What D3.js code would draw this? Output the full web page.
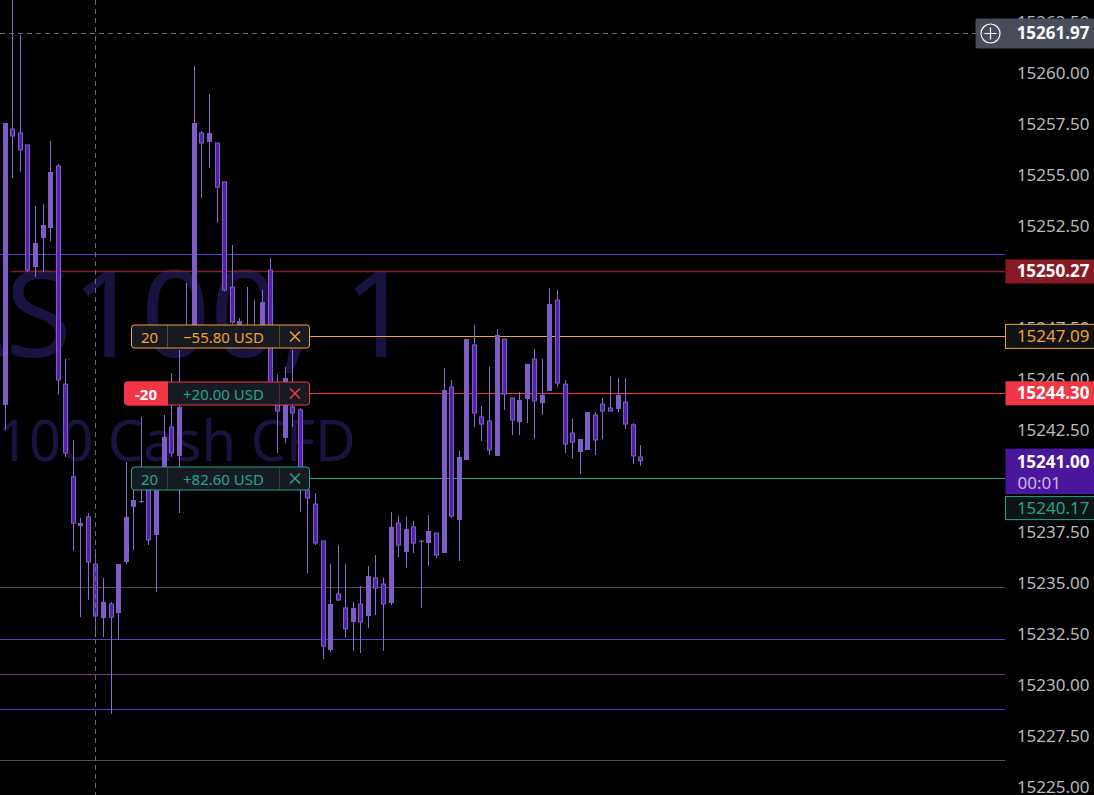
<!DOCTYPE html>
<html><head><meta charset="utf-8">
<script src="https://cdn.jsdelivr.net/npm/d3@7"></script>
<style>html,body{margin:0;padding:0;background:#000;overflow:hidden}</style>
</head><body>
<svg id="c" width="1094" height="795"></svg>
<script>
// ---------- data ----------
const opens = [15243.73,15257.25,15257.06,15256.47,15250.49,15251.91,15252.40,15255.44,15244.75,15240.20,
 15237.79,15238.24,15235.93,15233.28,15233.97,15233.53,15236.03,15238.73,15238.97,15239.56,
 15237.35,15240.69,15242.65,15241.23,15246.67,15246.91,15257.06,15256.62,15256.57,15254.66,
 15249.51,15247.65,15247.40,15246.81,15246.91,15250.34,15243.82,15242.11,15243.63,15243.48,
 15239.56,15238.87,15237.06,15231.72,15234.46,15233.78,15233.09,15233.97,15233.38,15235.25,
 15234.95,15234.02,15237.94,15236.52,15237.75,15237.06,15236.96,15237.45,15236.47,15244.61,
 15238.09,15241.03,15246.67,15243.14,15242.94,15241.23,15246.96,15244.07,15242.89,15244.02,
 15245.98,15243.82,15244.41,15248.87,15244.75,15242.35,15241.42,15241.52,15243.24,15243.77,
 15243.58,15243.53,15243.87,15242.75,15241.18];
const highs = [15257.55,15263.58,15261.86,15256.47,15253.48,15253.58,15256.67,15255.54,15245.98,15242.01,
 15238.19,15238.43,15236.47,15235.25,15234.07,15235.93,15240.93,15239.56,15243.14,15239.66,
 15239.56,15243.24,15245.29,15246.42,15249.71,15260.34,15257.16,15258.97,15256.57,15254.66,
 15251.57,15247.99,15249.51,15248.87,15249.36,15250.93,15245.20,15245.59,15246.42,15243.58,
 15239.71,15239.41,15237.06,15235.93,15236.86,15235.93,15234.07,15234.85,15235.83,15236.37,
 15235.25,15238.48,15238.28,15238.24,15238.04,15237.11,15238.33,15237.45,15245.54,15244.95,
 15241.47,15246.96,15247.65,15243.68,15245.59,15247.45,15246.96,15244.07,15244.36,15245.74,
 15246.47,15245.98,15249.46,15249.36,15244.95,15243.04,15242.06,15243.38,15243.38,15244.07,
 15245.15,15245.05,15245.05,15242.84,15241.76];
const lows = [15242.50,15254.85,15255.15,15250.25,15250.00,15250.25,15251.76,15244.22,15241.18,15236.57,
 15233.33,15234.17,15232.35,15232.35,15228.58,15232.21,15235.93,15236.62,15238.92,15236.86,
 15234.56,15240.54,15241.18,15238.43,15246.52,15246.67,15253.87,15255.34,15252.65,15249.30,
 15247.70,15247.16,15246.52,15246.52,15246.67,15243.87,15241.37,15241.86,15242.65,15238.48,
 15235.49,15236.86,15231.27,15231.62,15234.12,15232.30,15231.67,15231.57,15232.79,15233.43,
 15231.67,15233.92,15236.27,15235.74,15236.47,15233.78,15235.83,15236.23,15236.47,15238.19,
 15236.08,15241.03,15242.65,15241.96,15241.27,15241.23,15243.48,15242.25,15242.25,15242.84,
 15242.06,15243.24,15244.41,15244.61,15241.37,15241.08,15240.34,15241.52,15241.27,15242.06,
 15243.43,15243.38,15242.55,15240.83,15240.74];
const closes = [15257.55,15256.91,15256.23,15250.34,15251.67,15252.55,15255.15,15244.95,15241.37,15237.94,
 15237.94,15236.03,15233.38,15234.07,15233.33,15235.93,15238.24,15239.07,15239.02,15237.11,
 15239.56,15242.16,15241.37,15243.63,15247.40,15257.55,15256.57,15257.06,15254.41,15249.36,
 15247.79,15247.84,15246.91,15247.16,15248.77,15243.97,15243.43,15245.05,15243.33,15240.05,
 15239.17,15236.96,15231.91,15233.97,15234.17,15232.75,15233.78,15233.09,15235.34,15234.75,
 15233.97,15237.75,15236.86,15237.65,15236.96,15237.07,15237.55,15236.37,15244.46,15238.28,
 15241.18,15246.96,15243.33,15242.79,15241.52,15247.16,15244.26,15242.99,15243.97,15245.74,
 15243.92,15244.22,15248.68,15244.80,15241.81,15241.91,15242.06,15243.38,15242.01,15243.43,
 15243.43,15244.22,15242.79,15241.23,15241.00];

const tickValues = [15225.00,15227.50,15230.00,15232.50,15235.00,15237.50,15240.00,15242.50,
  15245.00,15247.50,15250.00,15252.50,15255.00,15257.50,15260.00,15262.50];

// drawn horizontal levels
const levelPrices = [15251.13, 15234.79, 15232.24, 15230.52, 15228.81, 15226.31];
const levelColors = ["#5442c8", "#4e4e4e", "#5442c8", "#7e36a6", "#5442c8", "#4e4e4e"];

// position line (ray from a bar index)
const rayPrice = 15250.27, rayStartIndex = 0.85;

// orders
const orderPrices = [15247.09, 15244.30, 15240.17];
const orderQty = ["20", "-20", "20"];
const orderPnl = ["\u221255.80 USD", "+20.00 USD", "+82.60 USD"];
const orderColors = ["#f0a232", "#f23645", "#22a58f"];
const orderPnlColors = ["#f0a232", "#22a58f", "#22a58f"];

const crossIndex = 12, crossPrice = 15261.97;
const lastPrice = 15241.00, countdown = "00:01";
const watermark1 = "NAS100, 1", watermark2 = "US Tech 100 Cash CFD";

// ---------- drawing ----------
const W = 1094, H = 795, paneRight = 1005;
const F = "'Noto Sans', 'Open Sans', sans-serif";
const svg = d3.select("#c");
svg.append("rect").attr("width", W).attr("height", H).attr("fill", "#000");

const x = d3.scaleLinear().domain([0, 84]).range([4.7, 640.3]);
const y = d3.scaleLinear().domain([15225, 15260]).range([787, 73]);
const py = p => Math.round(y(p)) + 0.5;

// watermark
svg.append("text").attr("x", -164).attr("y", 357).attr("font-family", F)
  .attr("font-size", 121).attr("fill", "#1a1240").text(watermark1);
svg.append("text").attr("x", -224).attr("y", 461).attr("font-family", F)
  .attr("font-size", 56).attr("fill", "#1a1240").text(watermark2);

// level lines
svg.append("g").selectAll("line").data(levelPrices).join("line")
  .attr("x1", 0).attr("x2", paneRight)
  .attr("y1", d => py(d)).attr("y2", d => py(d))
  .attr("stroke", (d, i) => levelColors[i]).attr("stroke-width", 1);

// red position ray
svg.append("line").attr("x1", x(rayStartIndex)).attr("x2", paneRight)
  .attr("y1", y(rayPrice)).attr("y2", y(rayPrice))
  .attr("stroke", "#851d25").attr("stroke-width", 1.6);

// order lines (to the right of labels)
const labelRight = 309.5;
svg.append("g").selectAll("line").data(orderPrices).join("line")
  .attr("x1", labelRight).attr("x2", paneRight)
  .attr("y1", d => py(d)).attr("y2", d => py(d))
  .attr("stroke", (d, i) => orderColors[i]).attr("stroke-width", 1);

// candles
const idx = d3.range(opens.length);
const upFill = "#7f5dc6", dnFill = "#5322a8", wickCol = "#8a6cd0", dnStroke = "#7f5ec8";
const cg = svg.append("g");
cg.selectAll("line").data(idx).join("line")
  .attr("x1", i => Math.round(x(i)) + 0.5).attr("x2", i => Math.round(x(i)) + 0.5)
  .attr("y1", i => y(highs[i])).attr("y2", i => y(lows[i]))
  .attr("stroke", wickCol).attr("stroke-width", 1);
cg.selectAll("rect").data(idx).join("rect")
  .attr("x", i => Math.round(x(i)) - 2 + (closes[i] >= opens[i] ? 0 : 0.5))
  .attr("width", i => closes[i] >= opens[i] ? 5 : 4)
  .attr("y", i => y(Math.max(opens[i], closes[i])))
  .attr("height", i => Math.max(1, Math.abs(y(opens[i]) - y(closes[i]))))
  .attr("fill", i => closes[i] >= opens[i] ? upFill : dnFill)
  .attr("stroke", i => closes[i] >= opens[i] ? "none" : dnStroke)
  .attr("stroke-width", 1);

// crosshair
const cx = Math.round(x(crossIndex)) + 0.5, cyy = py(crossPrice);
svg.append("line").attr("x1", cx).attr("x2", cx).attr("y1", 0).attr("y2", H)
  .attr("stroke", "#6b6b6b").attr("stroke-dasharray", "5,4");
svg.append("line").attr("x1", 0).attr("x2", 976).attr("y1", cyy).attr("y2", cyy)
  .attr("stroke", "#6b6b6b").attr("stroke-dasharray", "5,4");

// order labels
const qtySplit = 167.5, pnlSplit = 279.5;
orderPrices.forEach((p, i) => {
  const cy = py(p), h = 23, top = cy - 11.5;
  const filled = orderQty[i].startsWith("-");
  const left = filled ? 124.5 : 131.5;
  const g = svg.append("g");
  g.append("rect").attr("x", left).attr("y", top).attr("width", labelRight - left).attr("height", h)
    .attr("rx", 3).attr("fill", "#181a21").attr("stroke", orderColors[i]);
  if (filled) {
    g.append("path").attr("d",
      `M${qtySplit},${top} H${left + 3} Q${left},${top} ${left},${top + 3} V${top + h - 3} Q${left},${top + h} ${left + 3},${top + h} H${qtySplit} Z`)
      .attr("fill", orderColors[i]).attr("stroke", orderColors[i]);
  }
  [qtySplit, pnlSplit].forEach(sx => g.append("line").attr("x1", sx).attr("x2", sx)
    .attr("y1", top + 0.5).attr("y2", top + h - 0.5).attr("stroke", orderColors[i]).attr("stroke-opacity", 0.35));
  g.append("text").attr("x", (left + qtySplit) / 2).attr("y", cy + 0.5)
    .attr("text-anchor", "middle").attr("dominant-baseline", "central")
    .attr("font-family", F).attr("font-size", 15)
    .attr("font-weight", filled ? "bold" : "normal")
    .attr("fill", filled ? "#ffffff" : orderColors[i]).text(orderQty[i]);
  g.append("text").attr("x", (qtySplit + pnlSplit) / 2).attr("y", cy + 0.5)
    .attr("text-anchor", "middle").attr("dominant-baseline", "central")
    .attr("font-family", F).attr("font-size", 15)
    .attr("fill", orderPnlColors[i]).text(orderPnl[i]);
  const xc = (pnlSplit + labelRight) / 2 + 0.5, s = 5;
  g.append("path").attr("d", `M${xc - s},${cy - s} L${xc + s},${cy + s} M${xc + s},${cy - s} L${xc - s},${cy + s}`)
    .attr("stroke", orderColors[i]).attr("stroke-width", 1.5).attr("fill", "none");
});

// price axis
const axisG = svg.append("g").attr("transform", `translate(${paneRight},0)`)
  .call(d3.axisRight(y).tickValues(tickValues).tickFormat(d3.format(".2f")).tickSize(0));
axisG.select(".domain").remove();
axisG.selectAll("text").attr("x", 84.5).attr("text-anchor", "end").attr("dy", "0.35em")
  .attr("font-family", F).attr("font-size", 17).attr("fill", "#b8b9bf");

// axis boxes
const boxL = paneRight + 0.5, boxW = W - boxL;
function axisBox(cy, h, fill, stroke, txt, col, bold) {
  svg.append("rect").attr("x", boxL).attr("y", cy - h / 2).attr("width", boxW + 2).attr("height", h)
    .attr("fill", fill).attr("stroke", stroke || "none");
  svg.append("text").attr("x", W - 4.5).attr("y", cy).attr("dy", "0.35em").attr("text-anchor", "end")
    .attr("font-family", F).attr("font-size", 17).attr("font-weight", bold ? "bold" : "normal")
    .attr("fill", col).text(txt);
}
axisBox(y(rayPrice), 24, "#891b25", null, rayPrice.toFixed(2), "#ffffff", true);
axisBox(y(orderPrices[0]), 24, "#111216", orderColors[0], orderPrices[0].toFixed(2), orderColors[0], false);
axisBox(y(orderPrices[1]), 24, orderColors[1], null, orderPrices[1].toFixed(2), "#ffffff", true);

// last price box (two lines)
const ly = y(lastPrice);
svg.append("rect").attr("x", boxL).attr("y", ly - 12).attr("width", boxW + 2).attr("height", 45.5).attr("fill", "#4b169e");
svg.append("text").attr("x", W - 4.5).attr("y", ly + 1).attr("dy", "0.35em").attr("text-anchor", "end")
  .attr("font-family", F).attr("font-size", 17).attr("font-weight", "bold").attr("fill", "#ffffff").text(lastPrice.toFixed(2));
svg.append("text").attr("x", boxL + 12).attr("y", ly + 22).attr("dy", "0.35em").attr("text-anchor", "start")
  .attr("font-family", F).attr("font-size", 17).attr("fill", "#cdb8f0").text(countdown);

// stop box sits below last price box
const gy = ly + 33.5 + 2 + 12;
axisBox(gy, 23, "#0f1414", orderColors[2], orderPrices[2].toFixed(2), orderColors[2], false);

// crosshair price box
svg.append("rect").attr("x", 975.5).attr("y", cyy - 15).attr("width", W - 975).attr("height", 30).attr("rx", 2).attr("fill", "#484d59");
svg.append("circle").attr("cx", 990.5).attr("cy", cyy).attr("r", 9.5).attr("fill", "none").attr("stroke", "#ffffff").attr("stroke-width", 1.2);
svg.append("path").attr("d", `M984.5,${cyy} H996.5 M990.5,${cyy - 6} V${cyy + 6}`).attr("stroke", "#ffffff").attr("stroke-width", 1.2);
svg.append("text").attr("x", W - 4.5).attr("y", cyy).attr("dy", "0.35em").attr("text-anchor", "end")
  .attr("font-family", F).attr("font-size", 17).attr("font-weight", "bold").attr("fill", "#ffffff").text(crossPrice.toFixed(2));
</script>
</body></html>
